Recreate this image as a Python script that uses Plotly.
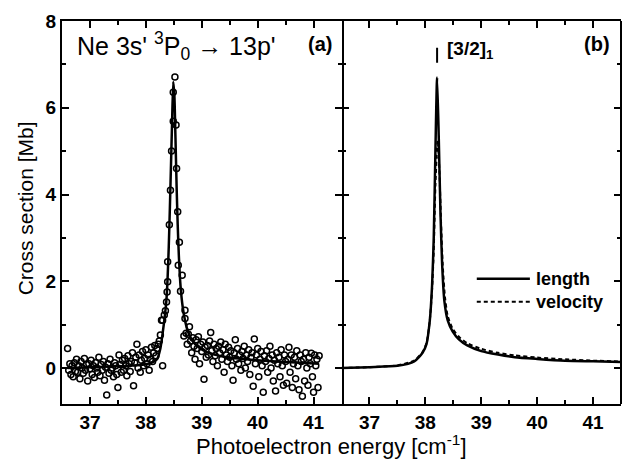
import plotly.graph_objects as go

# ---------------- data ----------------
# panel (a): measured points, baseline regions on a uniform 0.02 grid
left_start = 36.60
right_start = 38.72
grid_step = 0.02
left_values = [
    0.45, -0.05, 0.10, -0.15, 0.05, -0.20, 0.12, -0.08, 0.20, -0.10,
    0.05, -0.25, 0.15, 0.00, -0.12, 0.22, -0.05, 0.08, -0.30, 0.10,
    -0.02, 0.18, -0.15, 0.05, -0.22, 0.12, 0.00, -0.10, 0.25, -0.18,
    0.08, -0.05, 0.15, -0.28, 0.02, -0.62, 0.10, -0.12, 0.20, -0.05,
    0.00, -0.20, 0.12, 0.05, -0.15, -0.45, 0.30, 0.08, -0.10, 0.18,
    -0.05, 0.22, 0.05, -0.18, 0.28, 0.10, -0.08, 0.15, 0.35, -0.41,
    0.12, 0.25, 0.55, 0.00, 0.30, -0.10, 0.18, 0.38, 0.05, 0.22,
    0.42, 0.10, 0.30, -0.05, 0.20, 0.48, 0.15, 0.35, 0.52, 0.28,
    0.45, 0.55, 0.62, 0.76, 1.10,
]
right_values = [
    0.80, 0.55, 0.78, 0.95, 0.62, 0.35, 0.70, 0.50, 0.20, 0.65,
    0.45, 0.72, 0.10, 0.55, 0.38, 0.60, -0.26, 0.48, 0.25, 0.52,
    0.30, 0.62, 0.82, 0.40, 0.15, 0.55, 0.28, 0.45, 0.05, 0.50,
    0.35, 0.60, 0.20, 0.42, -0.10, 0.55, 0.30, 0.15, 0.48, 0.25,
    0.40, 0.05, -0.28, 0.35, 0.65, 0.20, 0.45, 0.10, 0.30, -0.05,
    0.38, 0.22, 0.50, 0.00, 0.30, 0.15, 0.42, -0.15, 0.25, 0.35,
    -0.42, 0.67, 0.10, 0.30, 0.45, -0.20, 0.20, 0.38, 0.05, -0.56,
    0.28, 0.15, 0.40, -0.10, 0.22, 0.50, 0.00, 0.30, -0.30, 0.18,
    -0.53, 0.35, 0.10, 0.25, -0.20, 0.42, 0.05, -0.40, 0.30, 0.15,
    -0.35, 0.20, 0.48, -0.10, 0.30, -0.45, 0.10, 0.25, -0.25, 0.40,
    0.05, -0.50, 0.30, 0.15, -0.65, 0.20, -0.30, 0.35, 0.00, -0.40,
    0.25, 0.10, 0.34, -0.20, -0.56, 0.30, 0.05, 0.20, -0.45, 0.28,
]
# panel (a): points on the resonance peak
peak_energy = [38.30, 38.30, 38.33, 38.35, 38.37, 38.38, 38.39, 38.39, 38.42, 38.44,
               38.46, 38.49, 38.49, 38.52, 38.54, 38.55, 38.57, 38.58, 38.60, 38.62,
               38.65, 38.68, 38.70, 38.70]
peak_values = [0.05, 1.10, 1.22, 1.32, 1.52, 1.75, 1.99, 2.45, 3.30, 4.10,
               5.00, 5.69, 6.36, 6.71, 5.60, 4.60, 3.60, 2.37, 2.90, 1.77,
               2.14, 0.74, 1.33, 1.14]
# panel (a): fitted profile
fit_energy = [36.60, 37.00, 37.50, 37.90, 38.10, 38.20, 38.26, 38.30, 38.34, 38.37,
              38.39, 38.41, 38.43, 38.45, 38.47, 38.49, 38.51, 38.53, 38.55, 38.57,
              38.59, 38.62, 38.66, 38.70, 38.75, 38.82, 38.95, 39.10, 39.40, 39.80,
              40.20, 40.60, 41.10]
fit_values = [0.00, 0.02, 0.04, 0.07, 0.12, 0.20, 0.45, 0.80, 1.20, 1.60,
              2.10, 2.80, 3.70, 4.70, 5.70, 6.60, 6.30, 5.30, 4.20, 3.30,
              2.60, 1.90, 1.40, 1.10, 0.85, 0.65, 0.47, 0.36, 0.26, 0.20,
              0.16, 0.13, 0.10]
# panel (b): theory, length and velocity forms
length_energy = [36.50, 37.00, 37.50, 37.80, 37.95, 38.02, 38.08, 38.12, 38.15, 38.18,
                 38.21, 38.24, 38.27, 38.30, 38.34, 38.40, 38.49, 38.60, 38.75, 39.00,
                 39.30, 39.60, 40.00, 40.50, 41.00, 41.50]
length_values = [0.00, 0.02, 0.05, 0.15, 0.35, 0.55, 1.10, 1.90, 3.00, 5.00,
                 6.70, 5.30, 3.60, 2.40, 1.55, 1.10, 0.84, 0.66, 0.52, 0.39,
                 0.31, 0.25, 0.21, 0.17, 0.155, 0.14]
velocity_energy = [36.50, 37.00, 37.50, 37.80, 37.95, 38.02, 38.08, 38.12, 38.15, 38.18,
                   38.22, 38.25, 38.28, 38.31, 38.35, 38.40, 38.49, 38.60, 38.75, 39.00,
                   39.30, 39.60, 40.00, 40.50, 41.00, 41.50]
velocity_values = [0.00, 0.02, 0.06, 0.17, 0.37, 0.57, 1.10, 1.80, 2.70, 4.20,
                   5.25, 4.60, 3.40, 2.40, 1.65, 1.20, 0.90, 0.72, 0.57, 0.44,
                   0.35, 0.29, 0.24, 0.20, 0.17, 0.15]
label_energy = 38.21

x_ticks = [37, 38, 39, 40, 41]
y_ticks = [0, 2, 4, 6, 8]

left_energy = [round(left_start + grid_step * i, 2) for i in range(len(left_values))]
right_energy = [round(right_start + grid_step * i, 2) for i in range(len(right_values))]

# ---------------- figure ----------------
FONT = "Liberation Sans, Arial, sans-serif"
fig = go.Figure()

pts_x = left_energy + peak_energy + right_energy
pts_y = left_values + peak_values + right_values
fig.add_trace(go.Scatter(x=pts_x, y=pts_y, mode="markers", xaxis="x", yaxis="y",
                         marker=dict(symbol="circle-open", size=6, color="black",
                                     line=dict(width=1.5, color="black")),
                         showlegend=False))
fig.add_trace(go.Scatter(x=fit_energy, y=fit_values, mode="lines", xaxis="x", yaxis="y",
                         line=dict(color="black", width=2.5, shape="spline", smoothing=0.6),
                         showlegend=False))
fig.add_trace(go.Scatter(x=velocity_energy, y=velocity_values, mode="lines", xaxis="x2", yaxis="y2",
                         line=dict(color="black", width=2, dash="4px,3px", shape="spline", smoothing=0.6),
                         showlegend=False))
fig.add_trace(go.Scatter(x=length_energy, y=length_values, mode="lines", xaxis="x2", yaxis="y2",
                         line=dict(color="black", width=2.5, shape="spline", smoothing=0.6),
                         showlegend=False))

tickfont = dict(family=FONT, size=19, color="black", weight="bold")
common_x = dict(range=[36.5, 41.5], tickvals=x_ticks, ticks="inside", ticklen=7, tickwidth=1.5,
                tickcolor="black", showline=True, linecolor="black", linewidth=2, mirror="ticks",
                showgrid=False, zeroline=False, tickfont=tickfont,
                minor=dict(dtick=0.5, ticks="inside", ticklen=4, tickwidth=1.5, tickcolor="black",
                           showgrid=False))
common_y = dict(range=[-0.83, 8], tickvals=y_ticks, ticks="inside", ticklen=7, tickwidth=1.5,
                tickcolor="black", linecolor="black", linewidth=2, mirror="ticks",
                showgrid=False, zeroline=False, tickfont=tickfont,
                minor=dict(dtick=1, ticks="inside", ticklen=4, tickwidth=1.5, tickcolor="black",
                           showgrid=False))

fig.update_layout(
    width=632, height=468,
    margin=dict(l=62, r=11, t=15, b=64),
    paper_bgcolor="white", plot_bgcolor="white",
    xaxis=dict(domain=[0, 0.5], anchor="y", **common_x),
    xaxis2=dict(domain=[0.5, 1], anchor="y2", **common_x),
    yaxis=dict(domain=[0, 1], anchor="x", showline=True, **common_y),
    yaxis2=dict(domain=[0, 1], anchor="x2", showline=False, showticklabels=False, **common_y),
    showlegend=False,
)

ann = []
ann.append(dict(text="Ne 3s' <sup>3</sup>P<sub>0</sub> \u2192 13p'", xref="paper", yref="paper",
                x=0.024, y=0.935, xanchor="left", yanchor="middle", showarrow=False,
                font=dict(family=FONT, size=25, color="black")))
ann.append(dict(text="(a)", xref="paper", yref="paper", x=0.462, y=0.94, xanchor="center",
                yanchor="middle", showarrow=False, font=dict(family=FONT, size=20, color="black", weight="bold")))
ann.append(dict(text="(b)", xref="paper", yref="paper", x=0.957, y=0.94, xanchor="center",
                yanchor="middle", showarrow=False, font=dict(family=FONT, size=20, color="black", weight="bold")))
ann.append(dict(text="[3/2]<sub>1</sub>", xref="x2", yref="paper", x=label_energy, xshift=8,
                y=0.925, xanchor="left", yanchor="middle", showarrow=False,
                font=dict(family=FONT, size=19, color="black", weight="bold")))
ann.append(dict(text="length", xref="paper", yref="paper", x=0.844, y=0.327, xanchor="left",
                yanchor="middle", showarrow=False, font=dict(family=FONT, size=18, color="black", weight="bold")))
ann.append(dict(text="velocity", xref="paper", yref="paper", x=0.844, y=0.267, xanchor="left",
                yanchor="middle", showarrow=False, font=dict(family=FONT, size=18, color="black", weight="bold")))
ann.append(dict(text="Photoelectron energy [cm<sup>-1</sup>]", xref="paper", yref="paper",
                x=0.483, y=-0.108, xanchor="center", yanchor="middle", showarrow=False,
                font=dict(family=FONT, size=22, color="black")))
ann.append(dict(text="Cross section [Mb]", xref="paper", yref="paper", x=-0.065, y=0.51,
                xanchor="center", yanchor="middle", textangle=-90, showarrow=False,
                font=dict(family=FONT, size=21, color="black")))
fig.update_layout(annotations=ann)

shapes = []
# right border of panel (b)
shapes.append(dict(type="line", xref="paper", yref="paper", x0=1, x1=1, y0=0, y1=1,
                   line=dict(color="black", width=2)))
shapes.append(dict(type="line", xref="x2", yref="paper", x0=label_energy, x1=label_energy,
                   y0=0.891, y1=0.93, line=dict(color="black", width=2)))
shapes.append(dict(type="line", xref="paper", yref="paper", x0=0.742, x1=0.837, y0=0.327, y1=0.327,
                   line=dict(color="black", width=2.5)))
shapes.append(dict(type="line", xref="paper", yref="paper", x0=0.742, x1=0.837, y0=0.267, y1=0.267,
                   line=dict(color="black", width=2, dash="4px,3px")))
fig.update_layout(shapes=shapes)

fig.write_html("out.html")
